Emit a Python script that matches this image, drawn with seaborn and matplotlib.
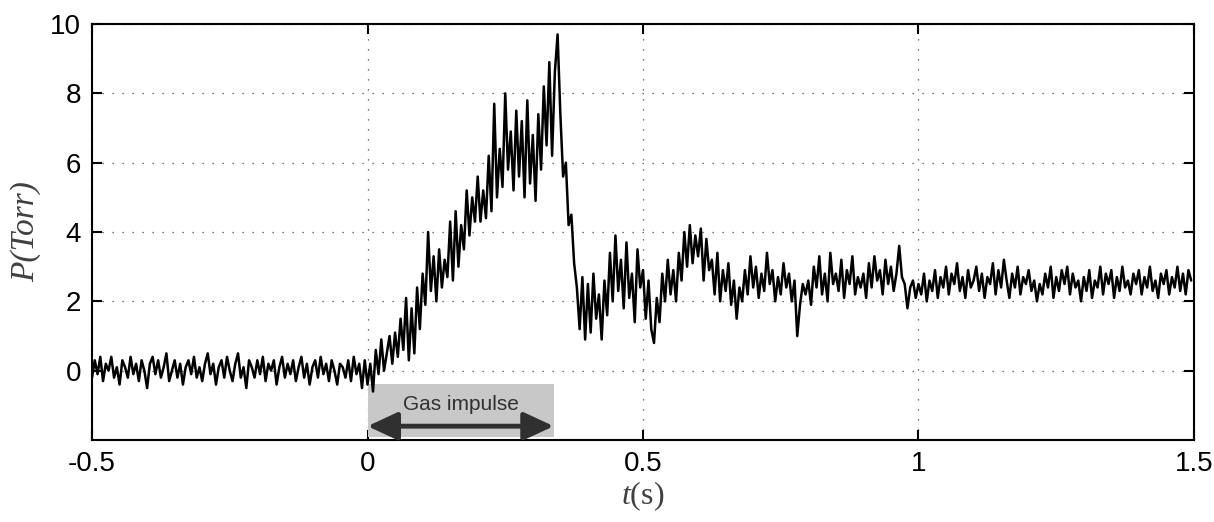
import numpy as np
import pandas as pd
import matplotlib
matplotlib.use("Agg")
import matplotlib.pyplot as plt
import seaborn as sns

# ------------------------------------------------------------
# Datos: presion P (Torr) cada 5 ms
# ------------------------------------------------------------
t_inicio = -0.5
dt = 0.005

p_base = [
    -0.2, 0.3, -0.1, 0.4, -0.3, 0.2, 0.0, 0.4, -0.2, 0.1, -0.4, 0.3, 0.1, -0.2, 0.4, -0.1, 0.2, -0.3, 0.3, 0.0,
    -0.5, 0.2, 0.4, -0.1, 0.3, -0.2, 0.1, 0.5, -0.3, 0.0, 0.3, -0.2, 0.2, -0.4, 0.1, 0.3, -0.1, 0.4, -0.2, 0.1,
    -0.3, 0.2, 0.5, -0.1, 0.2, -0.4, 0.1, 0.3, -0.2, 0.4, 0.0, -0.3, 0.2, 0.5, -0.2, 0.1, -0.5, 0.3, 0.1, -0.2,
    0.3, -0.1, 0.4, -0.3, 0.2, 0.0, 0.3, -0.4, 0.1, 0.4, -0.2, 0.2, -0.1, 0.3, -0.3, 0.1, 0.4, -0.2, 0.2, -0.4,
    0.1, 0.3, -0.2, 0.4, -0.1, 0.2, -0.3, 0.3, 0.0, -0.4, 0.2, 0.1, -0.2, 0.3, -0.3, 0.4, -0.1, 0.2, -0.5, 0.3,
]
p_impulso = [
    -0.4, 0.2, -0.6, 0.6, -0.1, 0.9, 0.0, 0.5, 1.0, 0.2, 1.1, 0.4, 1.5, 0.6, 2.1, 0.3, 1.8, 0.5, 2.4, 1.2,
    2.8, 1.9, 4.0, 2.3, 3.3, 2.0, 3.5, 2.4, 3.2, 2.7, 4.3, 2.6, 4.6, 3.0, 4.2, 3.5, 5.2, 3.9, 5.0, 4.3,
    5.6, 4.3, 5.2, 4.4, 6.2, 4.6, 7.7, 5.0, 6.4, 5.3, 8.0, 5.8, 6.9, 5.2, 7.5, 5.6, 7.2, 5.0, 7.8, 5.4,
    6.8, 4.9, 7.4, 5.8, 8.2, 6.5, 8.9, 6.2, 8.6, 9.7, 7.4, 5.6, 6.0, 4.2, 4.5, 3.1, 2.4, 1.2, 2.7, 0.9,
]
p_relajacion = [
    2.5, 1.1, 2.8, 1.5, 2.2, 0.9, 2.6, 1.6, 3.4, 2.0, 3.9, 2.3, 3.2, 1.8, 3.7, 2.1, 2.8, 1.4, 3.5, 2.4,
    2.9, 1.5, 2.6, 1.2, 0.8, 2.1, 1.4, 2.8, 2.0, 3.2, 2.2, 2.9, 2.0, 3.4, 2.6, 4.0, 3.0, 4.2, 3.1, 3.9,
    3.3, 4.1, 2.6, 3.8, 2.9, 3.2, 2.2, 3.4, 2.0, 2.9, 2.3, 3.1, 1.9, 2.6, 1.5, 2.4, 2.0, 2.9, 2.2, 3.3,
    2.4, 3.0, 2.1, 2.8, 2.3, 3.4, 2.5, 2.9, 2.0, 2.7, 2.2, 3.1, 2.4, 2.8, 2.0, 2.6, 1.0, 1.9, 2.5, 2.2,
    2.6, 1.9, 3.0, 2.4, 3.3, 2.2, 2.8, 2.0, 3.4, 2.5, 2.8, 2.3, 3.2, 2.1, 2.9, 2.5, 3.3, 2.2, 2.7, 2.4,
    2.8, 2.1, 3.1, 2.4, 3.3, 2.6, 2.9, 2.2, 3.2, 2.5, 3.0, 2.3, 2.8, 3.6, 2.7, 2.5, 1.8, 2.4, 2.6, 2.1,
]
p_estable = [
    2.5, 2.2, 2.8, 2.0, 2.6, 2.3, 2.9, 2.1, 2.7, 2.4, 3.0, 2.2, 2.8, 2.5, 3.1, 2.3, 2.7, 2.1, 2.9, 2.4,
    2.6, 3.0, 2.3, 2.8, 2.1, 2.7, 2.5, 3.1, 2.2, 2.9, 2.4, 3.2, 2.6, 2.1, 2.8, 2.4, 3.0, 2.2, 2.7, 2.5,
    2.9, 2.3, 2.6, 2.0, 2.5, 2.2, 2.8, 2.4, 3.0, 2.1, 2.7, 2.3, 2.9, 2.5, 3.0, 2.2, 2.8, 2.4, 2.6, 2.0,
    2.7, 2.3, 2.9, 2.1, 2.6, 2.4, 3.0, 2.2, 2.8, 2.5, 2.9, 2.1, 2.7, 2.3, 3.0, 2.4, 2.6, 2.2, 2.8, 2.5,
    2.9, 2.2, 2.7, 2.4, 3.0, 2.3, 2.6, 2.1, 2.8, 2.5, 2.9, 2.2, 2.7, 2.4, 3.0, 2.3, 2.8, 2.2, 2.9, 2.6,
]

x_ticks = [-0.5, 0, 0.5, 1, 1.5]
x_tick_labels = ["-0.5", "0", "0.5", "1", "1.5"]
y_ticks = [0, 2, 4, 6, 8, 10]

impulso_inicio = 0.0
impulso_fin = 0.338
etiqueta_impulso = "Gas impulse"

presion = np.array(p_base + p_impulso + p_relajacion + p_estable)
tiempo = t_inicio + dt * np.arange(len(presion))
df = pd.DataFrame({"t": tiempo, "P": presion})

# ------------------------------------------------------------
# Grafica
# ------------------------------------------------------------
sns.set_style("ticks")
plt.rcParams["font.family"] = ["Liberation Sans", "DejaVu Sans"]
plt.rcParams["mathtext.fontset"] = "custom"
plt.rcParams["mathtext.rm"] = "Liberation Serif"
plt.rcParams["mathtext.it"] = "Liberation Serif:italic"

fig = plt.figure(figsize=(12.14, 5.22), dpi=100)
ax = fig.add_axes([0.0758, 0.157, 0.9077, 0.797])

# caja gris del impulso (debajo de la senal)
ax.fill_between([impulso_inicio, impulso_fin], -1.9, -0.37, color="#c8c8c8", lw=0, zorder=1)

sns.lineplot(data=df, x="t", y="P", color="black", linewidth=1.8, ax=ax, zorder=3)

ax.annotate("", xy=(impulso_inicio, -1.6), xytext=(impulso_fin, -1.6),
            arrowprops=dict(arrowstyle="<|-|>,head_length=1.4,head_width=0.65",
                            mutation_scale=13, color="#303030", lw=3.5,
                            shrinkA=0, shrinkB=0), zorder=4)
ax.text((impulso_inicio + impulso_fin) / 2, -0.98, etiqueta_impulso,
        ha="center", va="center", fontsize=15, color="#303030", zorder=4)

ax.set_xlim(-0.5, 1.5)
ax.set_ylim(-2, 10)
ax.set_xticks(x_ticks)
ax.set_xticklabels(x_tick_labels)
ax.set_yticks(y_ticks)
ax.tick_params(direction="in", length=7, width=1.5, labelsize=20, colors="black",
               top=True, right=True, pad=8)
for s in ax.spines.values():
    s.set_linewidth(1.5)
    s.set_color("black")
    s.set_visible(True)

ax.grid(True, color="#444444", linestyle=(0, (1, 7)), linewidth=0.9)
ax.set_axisbelow(True)

ax.set_xlabel(r"$\mathit{t(}\mathrm{s)}$", fontsize=23, color="#404040", labelpad=2)
ax.set_ylabel("P(Torr)", fontsize=24, color="#404040", family=["Liberation Serif"],
              style="italic", labelpad=6)

plt.savefig("out.png", dpi=100)
